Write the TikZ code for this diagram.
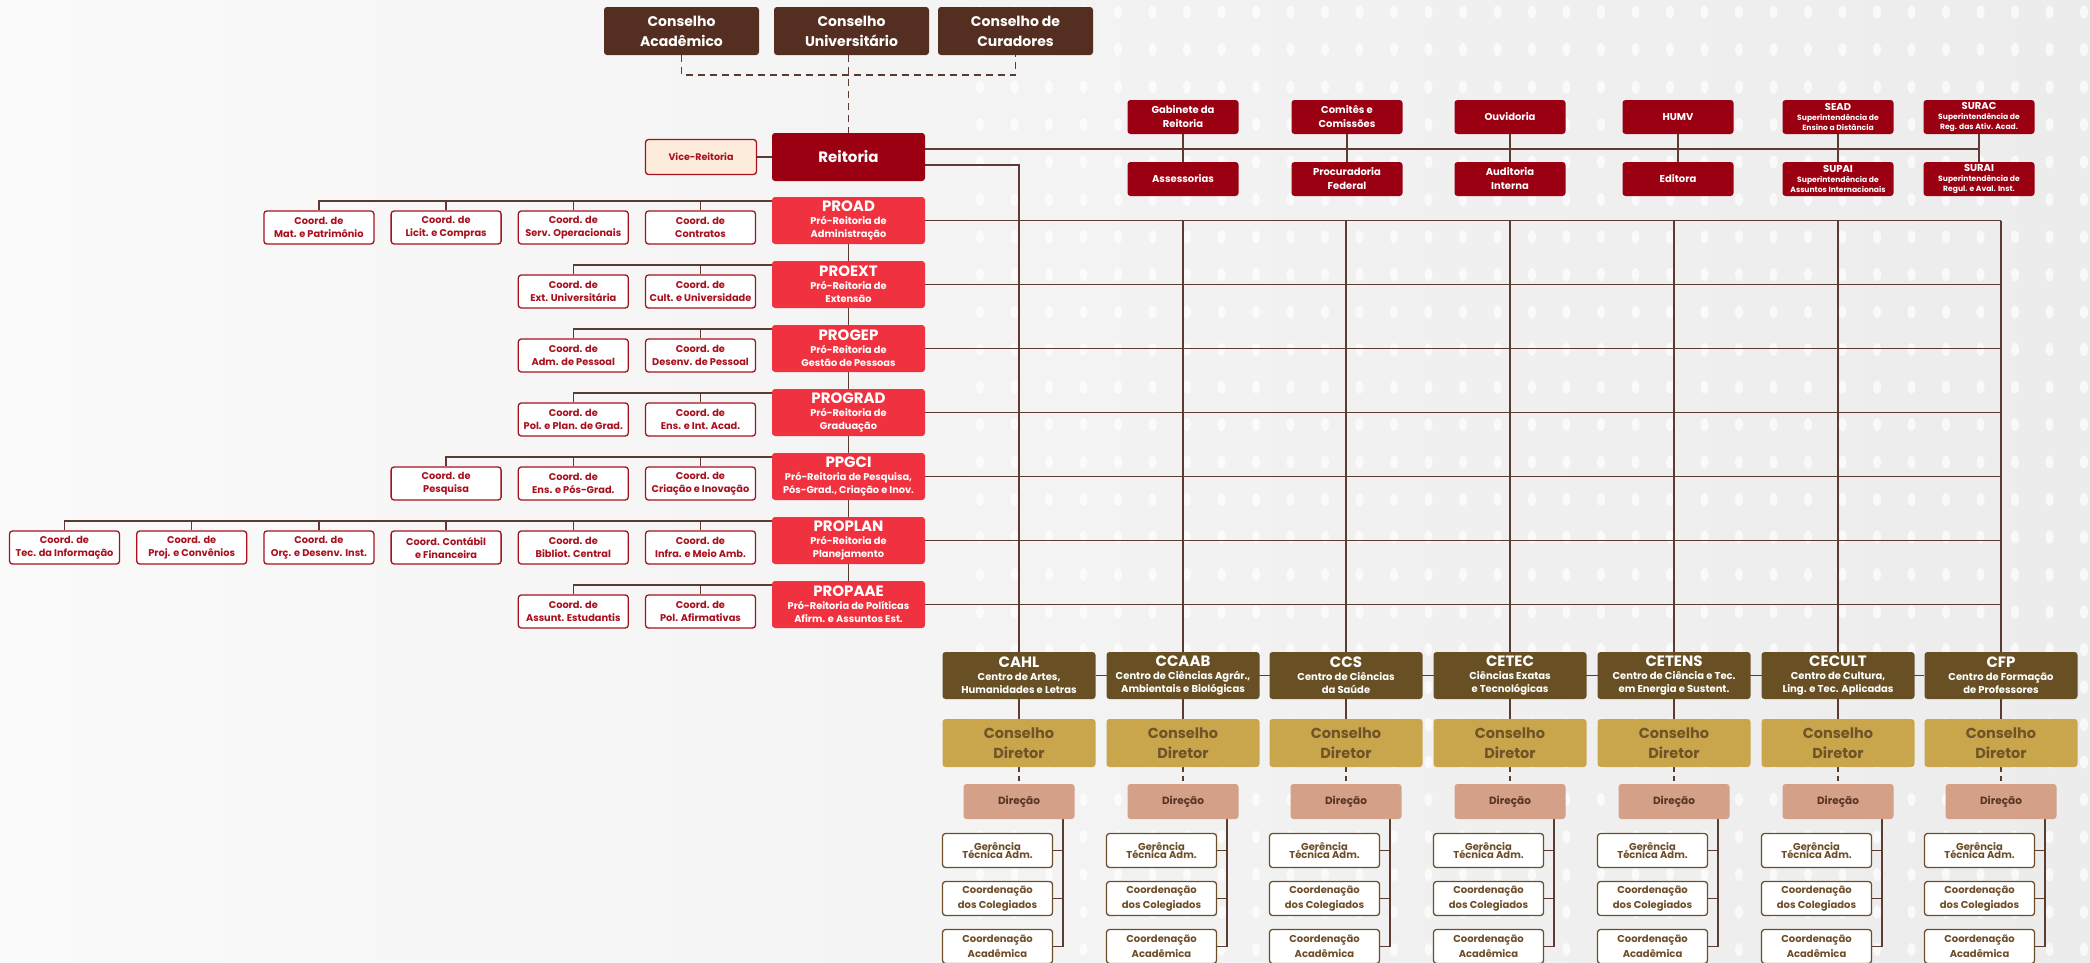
\documentclass[tikz,border=0pt]{standalone}
\usepackage{fontspec}
\setmainfont{Poppins}
\usetikzlibrary{calc}
\definecolor{cons}{RGB}{84,46,33}
\definecolor{rei}{RGB}{155,0,18}
\definecolor{pro}{RGB}{240,50,64}
\definecolor{cred}{RGB}{168,16,30}
\definecolor{vicef}{RGB}{253,235,220}
\definecolor{cen}{RGB}{104,80,36}
\definecolor{gold}{RGB}{201,165,76}
\definecolor{goldtxt}{RGB}{110,84,40}
\definecolor{dirf}{RGB}{212,160,136}
\definecolor{dirtxt}{RGB}{88,52,36}
\definecolor{subc}{RGB}{110,78,40}
\definecolor{ln}{RGB}{92,60,48}
\definecolor{bgl}{RGB}{250,250,250}
\definecolor{bgr}{RGB}{236,236,236}
\pgfdeclarelayer{bg}\pgfdeclarelayer{lines}\pgfsetlayers{bg,lines,main}
\begin{document}
\begin{tikzpicture}[x=1pt,y=-1pt,
  box/.style={rounded corners=3pt, inner sep=0pt, align=center},
  conselho/.style={box, fill=cons, text=white, minimum width=155pt, minimum height=48pt, font=\bfseries\fontsize{14}{20}\selectfont},
  reit/.style={box, fill=rei, text=white, minimum width=153pt, minimum height=48pt, font=\bfseries\fontsize{15}{18}\selectfont},
  vicebox/.style={box, fill=vicef, draw=cred, line width=1.3pt, text=cred, minimum width=111pt, minimum height=35pt, font=\bfseries\fontsize{9.5}{12}\selectfont},
  pror/.style={box, fill=pro, text=white, minimum width=153pt, minimum height=47pt, font=\bfseries\fontsize{9.8}{13}\selectfont},
  coord/.style={box, fill=white, draw=cred, line width=1.3pt, text=cred, minimum width=110pt, minimum height=33pt, font=\bfseries\fontsize{9.8}{13}\selectfont},
  topr/.style={box, fill=rei, text=white, minimum width=111pt, minimum height=34pt, font=\bfseries\fontsize{10}{14}\selectfont},
  supr/.style={box, fill=rei, text=white, minimum width=111pt, minimum height=34pt, font=\bfseries\fontsize{7.6}{9.8}\selectfont},
  centro/.style={box, fill=cen, text=white, minimum width=153pt, minimum height=47pt, font=\bfseries\fontsize{10}{13}\selectfont},
  cdir/.style={box, fill=gold, text=goldtxt, minimum width=153pt, minimum height=48pt, font=\bfseries\fontsize{14.5}{20}\selectfont},
  direc/.style={box, fill=dirf, text=dirtxt, minimum width=111pt, minimum height=35pt, font=\bfseries\fontsize{10.5}{13}\selectfont},
  subb/.style={box, fill=white, draw=subc, line width=1.3pt, text=subc, minimum width=110pt, minimum height=34pt, font=\bfseries\fontsize{10}{15.5}\selectfont},
  conn/.style={draw=ln, line width=1.5pt},
  dconn/.style={conn, dash pattern=on 7pt off 5pt},
  dshort/.style={conn, dash pattern=on 5pt off 4pt}
]
\useasboundingbox (0,0) rectangle (2090,962);
\clip (0,0) rectangle (2090,962);
\begin{pgfonlayer}{bg}
  \shade[left color=bgl, right color=bgr] (0,0) rectangle (2090,962);
  \foreach \i in {0,...,32} \foreach \j in {0,...,25}
    \fill[white, opacity=0.7] (980+34.5*\i, 12+37.5*\j) ellipse (4 and 6.5);
\end{pgfonlayer}

% Councils
\node[conselho] (CA) at (681.5,31) {Conselho\\Acadêmico};
\node[conselho] (CU) at (851.5,31) {Conselho\\Universitário};
\node[conselho] (CC) at (1015.5,31) {Conselho de\\Curadores};
\node[reit] (R) at (848.5,157) {Reitoria};
\node[vicebox] (VR) at (701,157) {Vice-Reitoria};

% Top right
\node[topr] (GAB) at (1183,117) {Gabinete da\\Reitoria};
\node[topr] (ASS) at (1183,179) {Assessorias};
\node[topr] (COM) at (1347,117) {Comitês e\\Comissões};
\node[topr] (PRF) at (1347,179) {Procuradoria\\Federal};
\node[topr] (OUV) at (1510,117) {Ouvidoria};
\node[topr] (AUD) at (1510,179) {Auditoria\\Interna};
\node[topr] (HUMV) at (1678,117) {HUMV};
\node[topr] (EDI) at (1678,179) {Editora};
\node[supr] (SEAD) at (1838,117) {{\fontsize{10}{10}\selectfont SEAD}\\Superintendência de\\Ensino a Distância};
\node[supr] (SUPAI) at (1838,179) {{\fontsize{10}{10}\selectfont SUPAI}\\Superintendência de\\Assuntos Internacionais};
\node[supr] (SURAC) at (1979,117) {{\fontsize{10}{10}\selectfont SURAC}\\Superintendência de\\Reg. das Ativ. Acad.};
\node[supr] (SURAI) at (1979,179) {{\fontsize{10}{10}\selectfont SURAI}\\Superintendência de\\Regul. e Aval. Inst.};

% Pro-Reitorias
\node[pror] (PROAD) at (848.5,220.5) {{\fontsize{15}{15}\selectfont PROAD}\\Pró-Reitoria de\\Administração};
\node[pror] (PROEXT) at (848.5,284.5) {{\fontsize{15}{15}\selectfont PROEXT}\\Pró-Reitoria de\\Extensão};
\node[pror] (PROGEP) at (848.5,348.5) {{\fontsize{15}{15}\selectfont PROGEP}\\Pró-Reitoria de\\Gestão de Pessoas};
\node[pror] (PROGRAD) at (848.5,412.5) {{\fontsize{15}{15}\selectfont PROGRAD}\\Pró-Reitoria de\\Graduação};
\node[pror] (PPGCI) at (848.5,476.5) {{\fontsize{15}{15}\selectfont PPGCI}\\Pró-Reitoria de Pesquisa,\\Pós-Grad., Criação e Inov.};
\node[pror] (PROPLAN) at (848.5,540.5) {{\fontsize{15}{15}\selectfont PROPLAN}\\Pró-Reitoria de\\Planejamento};
\node[pror] (PROPAAE) at (848.5,604.5) {{\fontsize{15}{15}\selectfont PROPAAE}\\Pró-Reitoria de Políticas\\Afirm. e Assuntos Est.};

% Coordinations (centres x: 700.5, 573.3, 446.1, 318.9, 191.7, 64.5)
\node[coord] (a4) at (318.9,227.5) {Coord. de\\Mat. e Patrimônio};
\node[coord] (a3) at (446.1,227.5) {Coord. de\\Licit. e Compras};
\node[coord] (a2) at (573.3,227.5) {Coord. de\\Serv. Operacionais};
\node[coord] (a1) at (700.5,227.5) {Coord. de\\Contratos};
\node[coord] (e2) at (573.3,291.5) {Coord. de\\Ext. Universitária};
\node[coord] (e1) at (700.5,291.5) {Coord. de\\Cult. e Universidade};
\node[coord] (g2) at (573.3,355.5) {Coord. de\\Adm. de Pessoal};
\node[coord] (g1) at (700.5,355.5) {Coord. de\\Desenv. de Pessoal};
\node[coord] (gr2) at (573.3,419.5) {Coord. de\\Pol. e Plan. de Grad.};
\node[coord] (gr1) at (700.5,419.5) {Coord. de\\Ens. e Int. Acad.};
\node[coord] (pq3) at (446.1,483.5) {Coord. de\\Pesquisa};
\node[coord] (pq2) at (573.3,483.5) {Coord. de\\Ens. e Pós-Grad.};
\node[coord] (pq1) at (700.5,483.5) {Coord. de\\Criação e Inovação};
\node[coord] (pl6) at (64.5,547.5) {Coord. de\\Tec. da Informação};
\node[coord] (pl5) at (191.7,547.5) {Coord. de\\Proj. e Convênios};
\node[coord] (pl4) at (318.9,547.5) {Coord. de\\Orç. e Desenv. Inst.};
\node[coord] (pl3) at (446.1,547.5) {Coord. Contábil\\e Financeira};
\node[coord] (pl2) at (573.3,547.5) {Coord. de\\Bibliot. Central};
\node[coord] (pl1) at (700.5,547.5) {Coord. de\\Infra. e Meio Amb.};
\node[coord] (pa2) at (573.3,611.5) {Coord. de\\Assunt. Estudantis};
\node[coord] (pa1) at (700.5,611.5) {Coord. de\\Pol. Afirmativas};

% Centres
\foreach \n/\x/\t/\s in {
  cahl/1019/CAHL/{Centro de Artes,\\Humanidades e Letras},
  ccaab/1183/CCAAB/{Centro de Ciências Agrár.,\\Ambientais e Biológicas},
  ccs/1346/CCS/{Centro de Ciências\\da Saúde},
  cetec/1510/CETEC/{Ciências Exatas\\e Tecnológicas},
  cetens/1674/CETENS/{Centro de Ciência e Tec.\\em Energia e Sustent.},
  cecult/1838/CECULT/{Centro de Cultura,\\Ling. e Tec. Aplicadas},
  cfp/2001/CFP/{Centro de Formação\\de Professores}}{
  \node[centro] (c\n) at (\x,675.5) {{\fontsize{15}{15}\selectfont \t}\\\s};
  \node[cdir] (d\n) at (\x,743) {Conselho\\Diretor};
  \node[direc] (e\n) at (\x,801.5) {Direção};
  \node[subb] (g\n) at (\x-21.5,850.5) {Gerência\\[-7.5pt]Técnica Adm.};
  \node[subb] (h\n) at (\x-21.5,898.5) {Coordenação\\dos Colegiados};
  \node[subb] (k\n) at (\x-21.5,946.5) {Coordenação\\Acadêmica};
  \begin{pgfonlayer}{lines}
    \draw[conn] (c\n.south) -- (d\n.north);
    \draw[dshort] (d\n.south) -- (e\n.north);
    \coordinate (v\n) at ($(e\n.south)+(44,0)$);
    \draw[conn] (v\n) -- (v\n |- k\n.east) -- (k\n.east);
    \draw[conn] (g\n.east) -- (g\n.east -| v\n);
    \draw[conn] (h\n.east) -- (h\n.east -| v\n);
  \end{pgfonlayer}
}

\begin{pgfonlayer}{lines}
  % councils
  \coordinate (dj) at (849,75);
  \draw[dconn] (CA.south) -- (CA.south |- dj) -- (CC.south |- dj) -- (CC.south);
  \draw[dconn] (R.north |- CU.south) -- (R.north);
  \draw[conn] (VR.east) -- (R.west);
  % reitoria to top-right
  \coordinate (r1) at ($(R.north east)+(0,16)$);
  \coordinate (r2) at ($(R.north east)+(0,32)$);
  \draw[conn] (r1) -- (r1 -| SURAC.south);
  \draw[conn] (GAB.south) -- (ASS.north);
  \draw[conn] (COM.south) -- (PRF.north);
  \draw[conn] (OUV.south) -- (AUD.north);
  \draw[conn] (HUMV.south) -- (EDI.north);
  \draw[conn] (SEAD.south) -- (SUPAI.north);
  \draw[conn] (SURAC.south) -- (SURAI.north);
  % reitoria to CAHL
  \draw[conn] (r2) -| (ccahl.north);
  % pro-reitoria chain
  \draw[conn] (PROAD.south) -- (PROPAAE.north);
  \foreach \p in {PROAD,PROEXT,PROGEP,PROGRAD,PPGCI,PROPLAN,PROPAAE}
    \draw[conn] (\p.east) -- (\p.east -| ccfp.north);
  \foreach \c in {ccaab,ccs,cetec,cetens,cecult,cfp}
    \draw[conn] (PROAD.east -| c\c.north) -- (c\c.north);
  \draw[conn] (ccahl.east) -- (ccfp.west);
  % coordination rows
  \coordinate (jad) at ($(PROAD.north west)+(0,4)$);
  \draw[conn] (jad) -| (a4.north);
  \foreach \b in {a3,a2,a1} \draw[conn] (\b.north) -- (\b.north |- jad);
  \coordinate (jex) at ($(PROEXT.north west)+(0,4)$);
  \draw[conn] (jex) -| (e2.north);
  \draw[conn] (e1.north) -- (e1.north |- jex);
  \coordinate (jge) at ($(PROGEP.north west)+(0,4)$);
  \draw[conn] (jge) -| (g2.north);
  \draw[conn] (g1.north) -- (g1.north |- jge);
  \coordinate (jgr) at ($(PROGRAD.north west)+(0,4)$);
  \draw[conn] (jgr) -| (gr2.north);
  \draw[conn] (gr1.north) -- (gr1.north |- jgr);
  \coordinate (jpq) at ($(PPGCI.north west)+(0,4)$);
  \draw[conn] (jpq) -| (pq3.north);
  \foreach \b in {pq2,pq1} \draw[conn] (\b.north) -- (\b.north |- jpq);
  \coordinate (jpl) at ($(PROPLAN.north west)+(0,4)$);
  \draw[conn] (jpl) -| (pl6.north);
  \foreach \b in {pl5,pl4,pl3,pl2,pl1} \draw[conn] (\b.north) -- (\b.north |- jpl);
  \coordinate (jpa) at ($(PROPAAE.north west)+(0,4)$);
  \draw[conn] (jpa) -| (pa2.north);
  \draw[conn] (pa1.north) -- (pa1.north |- jpa);
\end{pgfonlayer}
\end{tikzpicture}
\end{document}
